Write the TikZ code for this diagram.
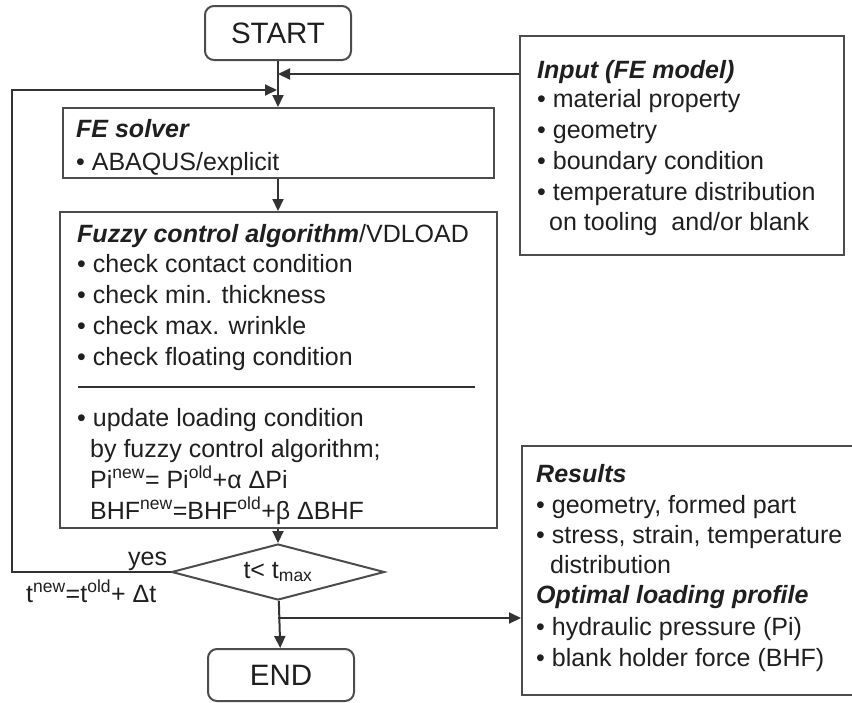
\documentclass[tikz,border=0pt]{standalone}
\usepackage{fontspec}
\setmainfont{Liberation Sans}
\usetikzlibrary{arrows.meta,shapes.geometric}
\begin{document}
\begin{tikzpicture}[x=1pt,y=-1pt,
  box/.style={draw=black!70, line width=2pt, inner sep=0pt},
  term/.style={box, rounded corners=9pt, text=black!88, font=\fontsize{29.5}{34}\selectfont},
  txt/.style={anchor=base west, inner sep=0pt, text=black!88, font=\fontsize{25}{31}\selectfont},
  ln/.style={draw=black!80, line width=2pt},
  arr/.style={ln, -{Triangle[length=12pt,width=11pt]}},
]
\useasboundingbox (0,0) rectangle (852,702);
% boxes
\node[term, minimum width=146pt, minimum height=54pt] (start) at (278,33) {START};
\node[box, minimum width=431pt, minimum height=70pt] (fe) at (278,143) {};
\node[box, minimum width=437pt, minimum height=316pt] (fuzzy) at (278,370) {};
\node[box, shape=diamond, aspect=3.8, minimum width=213pt, minimum height=56pt, text=black!88, font=\fontsize{25}{31}\selectfont] (diam) at (278,572) {\raisebox{2pt}{t< t\textsubscript{max}}};
\node[term, minimum width=146pt, minimum height=52pt] (end) at (281,675) {END};
\node[box, minimum width=324pt, minimum height=219pt] (inp) at (682,145.5) {};
\node[box, minimum width=332pt, minimum height=249pt] (res) at (688,570.5) {};
% FE solver text
\node[txt] (fe1) at (76,137) {\textbf{\textit{FE solver}}};
\node[txt] (fe2) at (76,170) {• ABAQUS/explicit};
% Fuzzy text
\node[txt] (fz0) at (77,242) {\textbf{\textit{Fuzzy control algorithm}}/VDLOAD};
\node[txt] (fz1) at (77,272) {• check contact condition};
\node[txt] (fz2) at (77,303) {• check min. thickness};
\node[txt] (fz3) at (77,334) {• check max. wrinkle};
\node[txt] (fz4) at (77,365) {• check floating condition};
\draw[draw=black!80, line width=1.3pt] (78,387) -- (475,387);
\node[txt] (fz5) at (77,426) {• update loading condition};
\node[txt] (fz6) at (90,457) {by fuzzy control algorithm;};
\node[txt] (fz7) at (90,488) {Pi\textsuperscript{new}= Pi\textsuperscript{old}+α ΔPi};
\node[txt] (fz8) at (90,519) {BHF\textsuperscript{new}=BHF\textsuperscript{old}+β ΔBHF};
% Input text
\node[txt] (in0) at (537,78) {\textbf{\textit{Input (FE model)}}};
\node[txt] (in1) at (537,107) {• material property};
\node[txt] (in2) at (537,138) {• geometry};
\node[txt] (in3) at (537,169) {• boundary condition};
\node[txt] (in4) at (537,200) {• temperature distribution};
\node[txt] (in5) at (549,230) {on tooling~ and/or blank};
% Results text
\node[txt] (rs0) at (536,482) {\textbf{\textit{Results}}};
\node[txt] (rs1) at (536,513) {• geometry, formed part};
\node[txt] (rs2) at (536,543) {• stress, strain, temperature};
\node[txt] (rs3) at (550,573) {distribution};
\node[txt] (rs4) at (536,603) {\textbf{\textit{Optimal loading profile}}};
\node[txt] (rs5) at (536,635) {• hydraulic pressure (Pi)};
\node[txt] (rs6) at (536,666) {• blank holder force (BHF)};
% loop labels
\node[txt] (yes) at (128,565) {yes};
\node[txt] (tnew) at (26,602) {t\textsuperscript{new}=t\textsuperscript{old}+ Δt};
% junctions
\coordinate (jin) at (278,74);
\coordinate (jloop) at (278,90);
\coordinate (jres) at (278,618);
\coordinate (cL) at (12,0);
% connectors
\draw[arr] (start) -- (fe);
\draw[arr] (inp.west |- jin) -- (jin);
\draw[arr, shorten >=1pt] (diam.west) -- (diam.west -| cL) |- (jloop);
\draw[arr] (fe) -- (fuzzy);
\draw[arr] (fuzzy) -- (diam);
\draw[arr] (diam) -- (end);
\draw[arr] (jres) -- (res.west |- jres);
\end{tikzpicture}
\end{document}
